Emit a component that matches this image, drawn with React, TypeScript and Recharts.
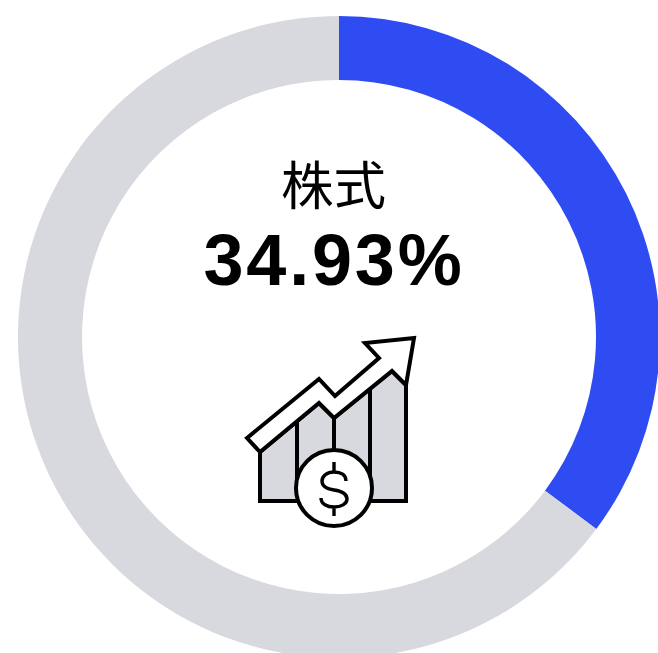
import { PieChart, Pie, Cell } from 'recharts';

const segmentNames = ['株式', 'その他'];
// arc lengths as drawn in the picture, the printed label is a little smaller
const segmentValues = [35.2, 64.8];
const segmentColors = ['#2f4bf2', '#d8d9df'];
const centerLabel = '株式';
const centerValue = '34.93%';

const chartData = segmentNames.map((name, i) => ({ name, value: segmentValues[i] }));

function GrowthIcon() {
  return (
    <g stroke="#000" strokeWidth={4} strokeLinejoin="miter" strokeLinecap="butt" fill="none">
      <path
        d="M260 501 L260 452 L319 403 L334 418 L392 371 L406 385 L406 501 Z"
        fill="#d8d9df"
      />
      <path d="M297 422 L297 480 M334 418 L334 452 M370 389 L370 480" />
      <path
        d="M247 438 L319 379 L335 396 L379 358 L365 343 L414 338 L406 385 L392 371 L334 418 L319 403 L260 452 Z"
        fill="#fff"
      />
      <circle cx={334} cy={488} r={38} fill="#fff" />
      <path
        d="M346 481 C346 475 341 472 334 472 C327 472 322 476 322 481 C322 487 327 489 334 490 C341 491 347 493 347 499 C347 504 341 507 334 507 C327 507 321 504 321 498 M334 462 L334 472 M334 507 L334 516"
        strokeWidth={3.4}
      />
    </g>
  );
}

export default function App() {
  return (
    <div style={{ position: 'fixed', left: 0, top: 0, width: 658, height: 653, overflow: 'hidden', background: '#fff' }}>
      <PieChart width={678} height={674} margin={{ top: 0, right: 0, bottom: 0, left: 0 }}>
        <Pie
          data={chartData}
          dataKey="value"
          cx={339}
          cy={337}
          innerRadius={257}
          outerRadius={321}
          startAngle={90}
          endAngle={-270}
          stroke="none"
          isAnimationActive={false}
        >
          {chartData.map((d, i) => (
            <Cell key={d.name} fill={segmentColors[i]} />
          ))}
        </Pie>
      </PieChart>
      <svg width={658} height={653} style={{ position: 'absolute', left: 0, top: 0 }}>
        <text
          x={333.5}
          y={205}
          textAnchor="middle"
          fontSize={52.5}
          fontFamily="'Noto Sans CJK JP', sans-serif"
          fill="#000"
        >
          {centerLabel}
        </text>
        <text
          x={334}
          y={285}
          textAnchor="middle"
          fontSize={72}
          fontWeight={700}
          letterSpacing={2.8}
          fontFamily="'Liberation Sans', Arial, sans-serif"
          fill="#000"
        >
          {centerValue}
        </text>
        <GrowthIcon />
      </svg>
    </div>
  );
}
